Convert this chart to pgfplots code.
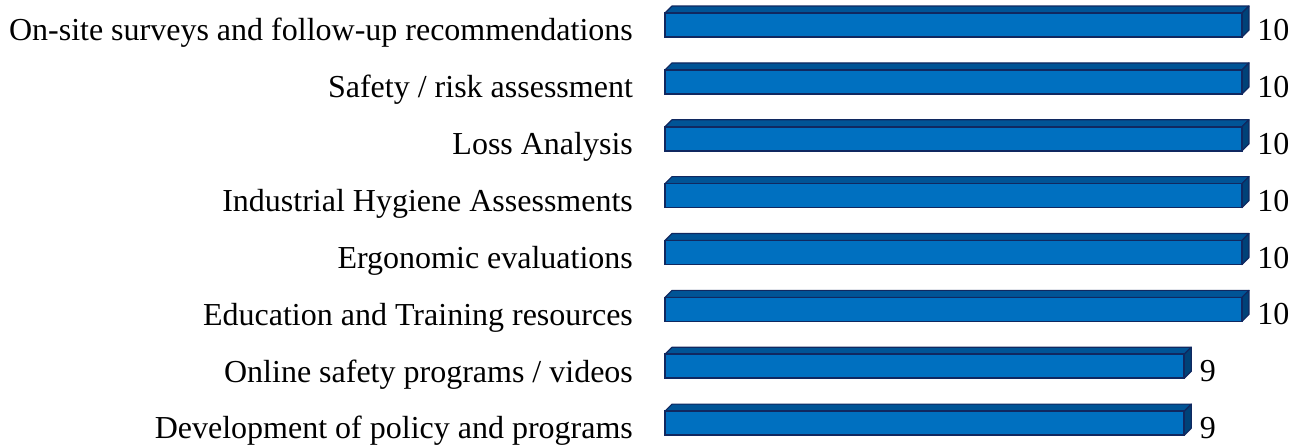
\documentclass[border=0pt]{standalone}
\usepackage{fontspec}
\setmainfont{Liberation Serif}
\usepackage{pgfplots}
\usepackage{pgfplotstable}
\pgfplotsset{compat=1.18}

\definecolor{barfront}{RGB}{0,112,192}
\definecolor{bartop}{RGB}{0,84,150}
\definecolor{barside}{RGB}{0,66,120}
\definecolor{barline}{RGB}{16,40,96}

% idx 0 is the top row
\pgfplotstableread{
idx val
0 10
1 10
2 10
3 10
4 10
5 10
6 9
7 9
}\datatable

\begin{document}
\begin{tikzpicture}
\begin{axis}[
    scale only axis,
    width=288.5pt, height=223.5pt,
    xmin=0, xmax=10,
    ymin=-0.44, ymax=7.42,
    y dir=reverse,
    axis x line=none,
    axis y line*=left,
    y axis line style={draw=none},
    ytick style={draw=none},
    ytick={0,...,7},
    yticklabels={On-site surveys and follow-up recommendations,
        Safety / risk assessment, Loss Analysis,
        Industrial Hygiene Assessments, Ergonomic evaluations,
        Education and Training resources,
        Online safety programs / videos,
        Development of policy and programs},
    yticklabel style={font=\fontsize{16}{18}\selectfont, xshift=-12.5pt, yshift=-4pt},
    /pgf/number format/assume math mode=true,
    clip=false,
]
\pgfplotsinvokeforeach{0,...,7}{
    \pgfplotstablegetelem{#1}{val}\of\datatable
    \edef\temp{%
        \noexpand\filldraw[fill=bartop, draw=barline, line width=0.6pt, line join=round]
            (axis cs:0,#1) ++(0pt,6pt) -- ++(3.5pt,3.5pt)
            -- ([shift={(3.5pt,9.5pt)}]axis cs:\pgfplotsretval,#1)
            -- ([shift={(0pt,6pt)}]axis cs:\pgfplotsretval,#1) -- cycle;
        \noexpand\filldraw[fill=barside, draw=barline, line width=0.6pt, line join=round]
            ([shift={(0pt,6pt)}]axis cs:\pgfplotsretval,#1) -- ++(3.5pt,3.5pt)
            -- ++(0pt,-12pt) -- ++(-3.5pt,-3.5pt) -- cycle;
    }\temp
}
\addplot[xbar, bar width=12pt, fill=barfront, draw=barline, line width=0.8pt,
    nodes near coords,
    nodes near coords style={anchor=west, xshift=4pt, yshift=-2.5pt,
        font=\fontsize{16}{18}\selectfont}]
    table[x=val, y=idx] {\datatable};
\end{axis}
\pgfresetboundingbox
\path[use as bounding box] (-332.5pt,0pt) rectangle (316pt,223.5pt);
\end{tikzpicture}
\end{document}
